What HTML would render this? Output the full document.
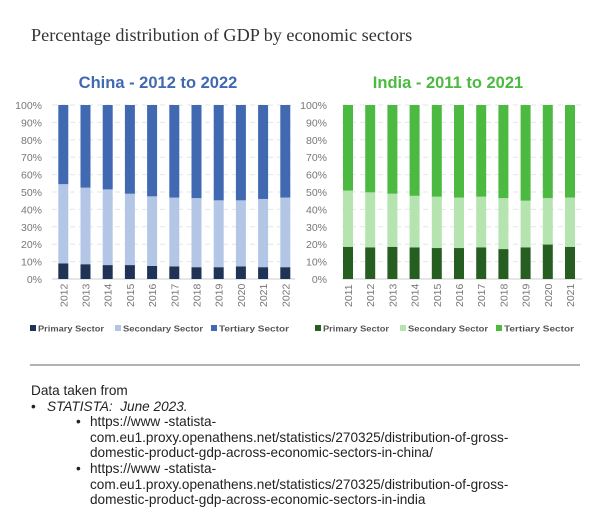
<!DOCTYPE html>
<html><head><meta charset="utf-8">
<style>
body{margin:0;background:#fff;width:602px;height:527px;overflow:hidden;position:relative;font-family:"Liberation Sans",sans-serif}
#main-title{position:absolute;left:31px;top:25px;font-family:"Liberation Serif",serif;font-size:18.2px;color:#333;margin:0;font-weight:normal;white-space:nowrap}
#notes{position:absolute;left:31px;top:383px;font-size:13.6px;line-height:15.6px;color:#222;white-space:nowrap}
#notes p{margin:0}
.l1{padding-left:16px;position:relative}
.l1:before{content:"•";position:absolute;left:0}
.l2{padding-left:59px;position:relative}
.l2:before{content:"•";position:absolute;left:45px}
</style></head><body>
<h1 id="main-title">Percentage distribution of GDP by economic sectors</h1>
<svg id="svg" width="602" height="380" style="position:absolute;left:0;top:0">
<line x1="30" y1="365" x2="580" y2="365" stroke="#999" stroke-width="1.5"/>
</svg>
<div id="notes">
<p>Data taken from</p>
<p class="l1"><i>STATISTA:&nbsp; June 2023.</i></p>
<p class="l2">https://www -statista-<br>com.eu1.proxy.openathens.net/statistics/270325/distribution-of-gross-<br>domestic-product-gdp-across-economic-sectors-in-china/</p>
<p class="l2">https://www -statista-<br>com.eu1.proxy.openathens.net/statistics/270325/distribution-of-gross-<br>domestic-product-gdp-across-economic-sectors-in-india</p>
</div>
<script>
const chinaYears=["2012","2013","2014","2015","2016","2017","2018","2019","2020","2021","2022"];
const chinaPrimary=[9,8.5,8,8,7.5,7.2,6.8,6.8,7.2,6.8,6.8];
const chinaSecondary=[45.5,44,43.5,41,40,39.6,39.7,38.4,38,39.2,40];
const indiaYears=["2011","2012","2013","2014","2015","2016","2017","2018","2019","2020","2021"];
const indiaPrimary=[18.5,18.2,18.5,18.2,17.8,17.8,18.2,17.2,18.2,19.8,18.5];
const indiaSecondary=[32.3,31.6,30.5,29.6,29.5,29,29.1,29.3,26.8,26.7,28.3];
const yTicks=[0,10,20,30,40,50,60,70,80,90,100];
const NS="http://www.w3.org/2000/svg";
const svg=document.getElementById('svg');
function mk(tag,attrs,parent){const e=document.createElementNS(NS,tag);for(const k in attrs)e.setAttribute(k,attrs[k]);(parent||svg).appendChild(e);return e;}
const y0=279,y100=105;
function yS(v){return y0-(y0-y100)*v/100;}
function drawChart(opt){
  const g=mk('g',{});
  
  
  const t=mk('text',{x:opt.titleX,y:88,'text-anchor':'middle','font-size':'16.5','font-weight':'bold',fill:opt.colors[2]},g);
  t.textContent=opt.title;
  
  
  yTicks.forEach(v=>{
    const y=yS(v);
    const l=mk('line',{x1:opt.gx1,x2:opt.gx2,y1:y,y2:y,stroke:v===0?'#ccc':'#e6e6e6','stroke-dasharray':v===0?'':'5,4'},g);
    
    
    const tx=mk('text',{x:opt.labelX,y:y+4,'text-anchor':'end','font-size':'10.5',fill:'#777'},g);
    tx.textContent=v+'%';
    
    
  });
  const step=22.2,bw=10;
  opt.years.forEach((yr,i)=>{
    const cx=opt.cx0+i*step;
    const p=opt.prim[i],s=opt.sec[i];
    const segs=[[0,p,opt.colors[0],'bar-primary'],[p,p+s,opt.colors[1],'bar-secondary'],[p+s,100,opt.colors[2],'bar-tertiary']];
    segs.forEach(sg=>{
      const r=mk('rect',{x:cx-bw/2,y:yS(sg[1]),width:bw,height:yS(sg[0])-yS(sg[1]),fill:sg[2]},g);
      
      
    });
    const tx=mk('text',{x:0,y:0,transform:`translate(${cx+4},${307}) rotate(-90)`,'font-size':'10.5',fill:'#777'},g);
    tx.textContent=yr;
    
    
  });
  const names=['Primary Sector','Secondary Sector','Tertiary Sector'];
  const lens=[66,80,70];
  opt.legX.forEach((lx,i)=>{
    const r=mk('rect',{x:lx,y:325,width:6,height:6,fill:opt.colors[i]},g);
    
    
    const tx=mk('text',{x:lx+8,y:331.5,'font-size':'8.5','font-weight':'bold',fill:'#555',textLength:lens[i],lengthAdjust:'spacingAndGlyphs'},g);
    tx.textContent=names[i];
    
    
  });
}
drawChart({name:'china-chart',title:'China - 2012 to 2022',titleX:158,years:chinaYears,prim:chinaPrimary,sec:chinaSecondary,colors:['#1f3357','#b4c6e6','#4169b1'],gx1:52,gx2:295,labelX:42,cx0:63.3,legX:[30,115,211]});
drawChart({name:'india-chart',title:'India - 2011 to 2021',titleX:448,years:indiaYears,prim:indiaPrimary,sec:indiaSecondary,colors:['#265e22','#b5e4b0','#4cba41'],gx1:342,gx2:582,labelX:327,cx0:348,legX:[315,400,496]});
</script>
</body></html>
